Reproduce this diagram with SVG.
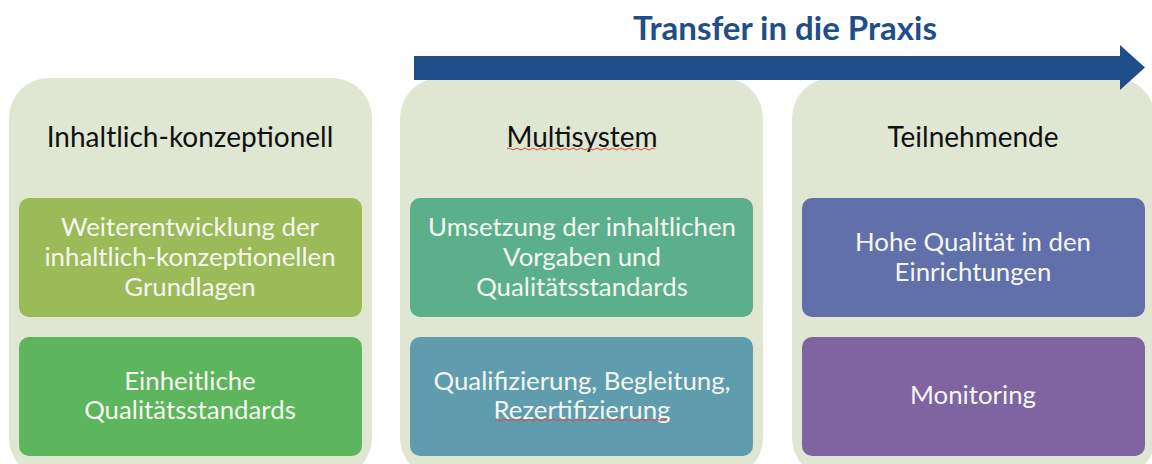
<svg xmlns="http://www.w3.org/2000/svg" width="1152" height="464" viewBox="0 0 1152 464">
<style>
.panel{fill:#dfe6d1}
.box{stroke:none}
.hdr{font-family:Lato,"Noto Sans",sans-serif;font-size:28px;fill:#111;text-anchor:middle}
.bt{font-family:Lato,"Noto Sans",sans-serif;font-size:25.8px;fill:#f4f7f0;text-anchor:middle}
.title{font-family:Lato,"Noto Sans",sans-serif;font-size:33px;font-weight:bold;fill:#1f4e89;text-anchor:middle}
.sq{fill:none;stroke:#e8443a;stroke-width:1}
</style>
<rect width="1152" height="464" fill="#ffffff"/>
<g id="panel-left">
<rect class="panel" x="9" y="78" width="363" height="400" rx="40"/>
<text class="hdr" x="190" y="147">Inhaltlich-konzeptionell</text>
</g>
<g id="panel-middle">
<rect class="panel" x="400" y="78" width="363" height="400" rx="40"/>
<text class="hdr" x="582" y="147">Multisystem</text>
<path class="sq" d="M507,149 q2,-2 4,0 t4,0 t4,0 t4,0 t4,0 t4,0 t4,0 t4,0 t4,0 t4,0 t4,0 t4,0 t4,0 t4,0 t4,0 t4,0 t4,0 t4,0 t4,0 t4,0 t4,0 t4,0 t4,0 t4,0 t4,0 t4,0 t4,0 t4,0 t4,0 t4,0 t4,0 t4,0 t4,0 t4,0 t4,0 t4,0 t4,0"/>
</g>
<g id="panel-right">
<rect class="panel" x="792" y="78" width="363" height="400" rx="40"/>
<text class="hdr" x="973" y="147">Teilnehmende</text>
</g>
<g id="node-weiterentwicklung">
<rect class="box" x="19" y="198" width="343" height="119" rx="10" fill="#9bbb59"/>
<text class="bt" x="190" y="236">Weiterentwicklung der</text>
<text class="bt" x="190" y="266">inhaltlich-konzeptionellen</text>
<text class="bt" x="190" y="296">Grundlagen</text>
</g>
<g id="node-einheitliche">
<rect class="box" x="19" y="337" width="343" height="119" rx="10" fill="#5db55d"/>
<text class="bt" x="190" y="390">Einheitliche</text>
<text class="bt" x="190" y="419">Qualitätsstandards</text>
</g>
<g id="node-umsetzung">
<rect class="box" x="410" y="198" width="343" height="119" rx="10" fill="#5bb08b"/>
<text class="bt" x="582" y="236">Umsetzung der inhaltlichen</text>
<text class="bt" x="582" y="266">Vorgaben und</text>
<text class="bt" x="582" y="296">Qualitätsstandards</text>
</g>
<g id="node-qualifizierung">
<rect class="box" x="410" y="337" width="343" height="119" rx="10" fill="#5f9dae"/>
<text class="bt" x="582" y="390">Qualifizierung, Begleitung,</text>
<text class="bt" x="582" y="419">Rezertifizierung</text>
<path class="sq" d="M495,420 q2,-2 4,0 t4,0 t4,0 t4,0 t4,0 t4,0 t4,0 t4,0 t4,0 t4,0 t4,0 t4,0 t4,0 t4,0 t4,0 t4,0 t4,0 t4,0 t4,0 t4,0 t4,0 t4,0 t4,0 t4,0 t4,0 t4,0 t4,0 t4,0 t4,0 t4,0 t4,0 t4,0 t4,0 t4,0 t4,0 t4,0 t4,0 t4,0 t4,0 t4,0 t4,0 t4,0 t4,0"/>
</g>
<g id="node-hohe-qualitaet">
<rect class="box" x="802" y="198" width="343" height="119" rx="10" fill="#6170aa"/>
<text class="bt" x="973" y="251">Hohe Qualität in den</text>
<text class="bt" x="973" y="281">Einrichtungen</text>
</g>
<g id="node-monitoring">
<rect class="box" x="802" y="337" width="343" height="119" rx="10" fill="#8064a1"/>
<text class="bt" x="973" y="404">Monitoring</text>
</g>
<g id="connectors">
<path d="M414,56 L1120,56 L1120,45 L1145,67.5 L1120,90 L1120,80 L414,80 Z" fill="#1f4e89"/>
<text class="title" x="785" y="40">Transfer in die Praxis</text>
</g>
</svg>
